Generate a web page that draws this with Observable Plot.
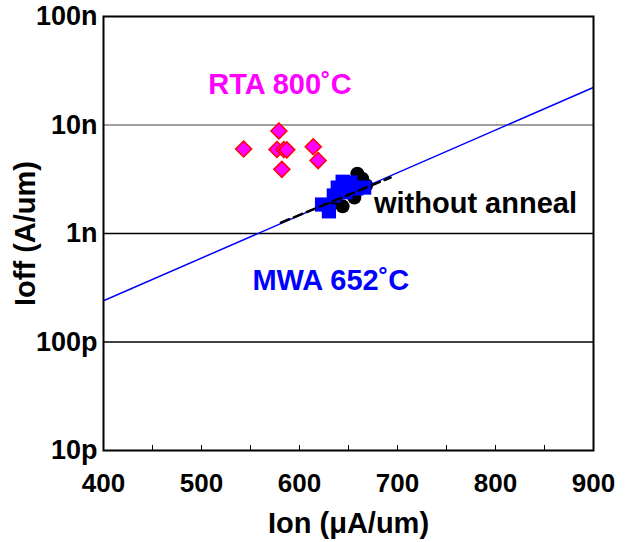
<!DOCTYPE html>
<html>
<head>
<meta charset="utf-8">
<script src="https://cdn.jsdelivr.net/npm/d3@7"></script>
<script src="https://cdn.jsdelivr.net/npm/@observablehq/plot@0.6"></script>
<style>
  html, body { margin: 0; padding: 0; background: #fff; }
</style>
</head>
<body>
<div id="chart"></div>
<script>
// RTA 800°C (diamonds)
const rtaIon  = [543, 579, 577, 584, 587, 582, 614, 619];
const rtaIoff = [6.0e-9, 8.8e-9, 5.95e-9, 5.95e-9, 5.9e-9, 3.9e-9, 6.3e-9, 4.7e-9];

// without anneal (black circles)
const noIon  = [659, 664, 668, 656, 644, 637];
const noIoff = [3.55e-9, 3.2e-9, 2.78e-9, 2.15e-9, 1.78e-9, 1.97e-9];

// MWA 652°C (blue squares)
const mwaIon  = [623, 630, 635, 639, 644, 652, 658, 647, 666];
const mwaIoff = [1.85e-9, 1.6e-9, 2.24e-9, 2.65e-9, 3.0e-9, 2.95e-9, 2.6e-9, 2.4e-9, 2.65e-9];

// blue reference line end points
const fitIon  = [400, 900];
const fitIoff = [2.4e-10, 2.22e-8];

// dashed black trend
const dashIon  = [581, 693];
const dashIoff = [1.26e-9, 3.28e-9];

// axes
const xTicksMajor = [400, 500, 600, 700, 800, 900];
const xTicksMinor = [400, 450, 500, 550, 600, 650, 700, 750, 800, 850, 900];
const yTicks = [1e-11, 1e-10, 1e-9, 1e-8, 1e-7];
const yTickLabels = ["10p", "100p", "1n", "10n", "100n"];
const gridVals = [1e-8, 1e-9, 1e-10];
const gridColors = ["#808080", "#000000", "#000000"];

// annotations
const notesCenter = [
  {text: "RTA 800˚C", x: 580, y: 2.36e-8, color: "#ff00ff"},
  {text: "MWA 652˚C", x: 632, y: 3.7e-10, color: "#0000ff"}
];
const notesStart = [
  {text: "without anneal", x: 676, y: 1.89e-9, color: "#000000"}
];

const zip = (xs, ys) => xs.map((x, i) => ({x, y: ys[i]}));
const rta = zip(rtaIon, rtaIoff);
const noA = zip(noIon, noIoff);
const mwa = zip(mwaIon, mwaIoff);
const fit = zip(fitIon, fitIoff);
const dash = zip(dashIon, dashIoff);
const grid = gridVals.map((v, i) => ({v, c: gridColors[i]}));

const font = "'Liberation Sans', Arial, sans-serif";

const chart = Plot.plot({
  width: 625,
  height: 542,
  marginLeft: 103,
  marginRight: 32,
  marginTop: 16,
  marginBottom: 92,
  style: {fontFamily: font, fontWeight: "bold", background: "#fff", color: "#000"},
  x: {domain: [400, 900]},
  y: {type: "log", domain: [1e-11, 1e-7]},
  marks: [
    Plot.ruleY(grid, {y: "v", stroke: "c", strokeWidth: 1.5}),
    Plot.line(fit, {x: "x", y: "y", stroke: "#0000ff", strokeWidth: 1.5, clip: true}),
    Plot.dot(noA, {x: "x", y: "y", r: 7, fill: "#000", stroke: "none"}),
    Plot.dot(mwa, {x: "x", y: "y", symbol: "square", r: 8, fill: "#0000ff", stroke: "none"}),
    Plot.line(dash, {x: "x", y: "y", stroke: "#000", strokeWidth: 2.5, strokeDasharray: "9,5"}),
    Plot.dot(rta, {x: "x", y: "y", symbol: "diamond2", r: 7.2, fill: "#ff00ff", stroke: "#ff0000", strokeWidth: 1.5}),
    Plot.text(notesCenter, {x: "x", y: "y", text: "text", fill: "color", textAnchor: "middle", fontSize: 29, fontWeight: "bold"}),
    Plot.text(notesStart, {x: "x", y: "y", text: "text", fill: "color", textAnchor: "start", fontSize: 29, fontWeight: "bold"}),
    Plot.axisY({ticks: yTicks, tickFormat: (d) => yTickLabels[yTicks.indexOf(d)], tickSize: 0, tickPadding: 6, fontSize: 27, fontWeight: "bold", label: null}),
    Plot.axisX({ticks: xTicksMinor, tickSize: 5, dy: -5, text: null, label: null, strokeWidth: 1}),
    Plot.axisX({ticks: xTicksMajor, tickSize: 0, tickPadding: 23, fontSize: 26, fontWeight: "bold", label: null}),
    Plot.text(["Ion (μA/um)"], {frameAnchor: "bottom", textAnchor: "middle", lineAnchor: "middle", dy: 73, fontSize: 29, fontWeight: "bold"}),
    Plot.text(["Ioff (A/um)"], {frameAnchor: "left", textAnchor: "middle", lineAnchor: "middle", dx: -78, rotate: -90, fontSize: 29, fontWeight: "bold"}),
    Plot.frame({stroke: "#000", strokeWidth: 2})
  ]
});
document.getElementById("chart").appendChild(chart);
</script>
</body>
</html>
